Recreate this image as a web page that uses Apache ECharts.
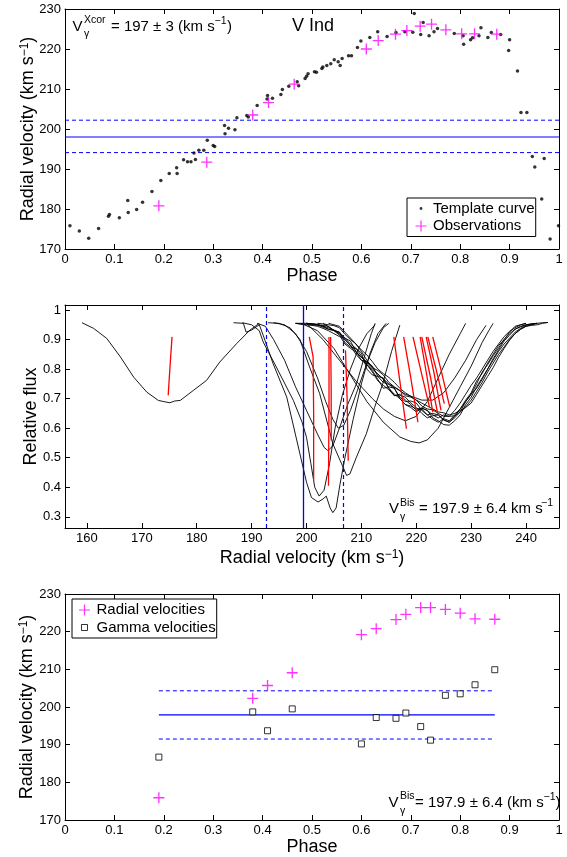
<!DOCTYPE html>
<html><head><meta charset="utf-8">
<script src="https://cdn.jsdelivr.net/npm/echarts@6/dist/echarts.min.js"></script>
<style>html,body{margin:0;padding:0;background:#fff}#c{width:567px;height:857px}</style>
</head><body><div id="c"></div>
<script>
const FONT = '"Liberation Sans", Arial, Helvetica, sans-serif';

// ---------- Top panel: template curve and observations ----------
const tplPhase = [0.010,0.029,0.048,0.068,0.088,0.090,0.110,0.127,0.128,0.145,0.157,0.176,0.194,0.211,0.226,0.227,0.240,0.248,0.255,0.261,0.264,0.271,0.281,0.288,0.300,0.303,0.323,0.324,0.331,0.344,0.348,0.368,0.371,0.389,0.409,0.410,0.420,0.437,0.440,0.453,0.470,0.473,0.486,0.489,0.492,0.505,0.509,0.520,0.522,0.530,0.538,0.545,0.553,0.557,0.561,0.574,0.580,0.592,0.599,0.617,0.633,0.652,0.670,0.688,0.704,0.707,0.720,0.725,0.737,0.747,0.754,0.788,0.806,0.807,0.821,0.825,0.838,0.842,0.856,0.863,0.882,0.898,0.900,0.916,0.923,0.935,0.946,0.951,0.965,0.970,0.982,0.999];
const tplRV = [175.8,174.5,172.7,175.1,178.2,178.6,177.8,182.1,179.1,179.9,181.7,184.4,187.1,188.9,190.3,188.9,192.3,191.8,191.8,194.0,192.4,194.7,194.7,197.2,195.9,195.6,200.9,198.8,200.2,199.8,202.8,203.4,203.0,205.9,207.5,208.4,207.7,208.6,209.9,210.7,211.8,210.8,212.6,213.2,213.8,214.3,214.2,215.1,215.5,215.9,216.3,217.3,216.8,215.9,217.6,218.3,218.3,220.4,222.0,222.9,224.3,223.1,224.1,224.3,224.2,228.9,223.6,226.6,223.3,224.3,225.1,223.9,223.3,221.2,222.3,222.8,223.3,225.3,222.9,224.1,223.6,219.6,222.3,214.5,204.1,204.1,193.1,190.5,182.5,192.6,172.5,175.8];
const obsPhase = [0.190,0.287,0.380,0.412,0.464,0.610,0.634,0.669,0.692,0.719,0.742,0.771,0.803,0.829,0.874];
const obsRV = [180.8,191.7,203.5,206.6,211.2,220.0,222.1,223.7,224.6,225.7,226.2,224.8,223.8,223.8,223.7];
const xcorMean = 198.0, xcorUpper = 202.2, xcorLower = 194.1;

// ---------- Middle panel: line profiles (velocity, relative flux) ----------
const profA = [[159.1,0.957],[161.2,0.938],[163.6,0.904],[166.1,0.841],[168.5,0.773],[170.9,0.722],[173.0,0.694],[174.0,0.690],[175.1,0.686],[176.0,0.692],[177.0,0.694],[179.4,0.728],[181.8,0.762],[184.2,0.824],[187.3,0.887],[189.7,0.932],[191.4,0.955]];
const profD1 = [[186.7,0.957],[188.5,0.955],[189.0,0.925],[190.0,0.932],[191.4,0.950],[192.1,0.915],[193.9,0.819],[196.4,0.705],[198.8,0.513],[200.0,0.417],[200.9,0.365],[202.1,0.350],[203.0,0.360],[203.6,0.370],[204.3,0.330],[204.8,0.314],[205.4,0.330],[206.1,0.410],[207.0,0.500],[208.5,0.630],[210.0,0.750],[211.5,0.850],[213.0,0.920],[214.5,0.955]];
const profD2 = [[188.3,0.957],[190.0,0.950],[191.4,0.930],[192.1,0.892],[194.5,0.807],[197.6,0.694],[199.2,0.620],[200.0,0.569],[200.8,0.480],[201.5,0.400],[202.3,0.370],[203.2,0.390],[204.2,0.480],[205.2,0.600],[206.5,0.710],[208.0,0.800],[209.5,0.870],[211.0,0.920],[212.5,0.950]];
const profD3 = [[193.0,0.957],[195.0,0.955],[197.0,0.940],[198.8,0.900],[200.5,0.810],[202.4,0.717],[204.8,0.547],[206.4,0.479],[207.3,0.440],[207.9,0.445],[209.1,0.502],[210.9,0.581],[212.4,0.670],[213.9,0.751],[215.5,0.860],[217.0,0.949]];
const profD4 = [[191.0,0.955],[192.5,0.945],[194.0,0.900],[196.0,0.830],[198.0,0.740],[200.0,0.660],[202.0,0.580],[203.2,0.535],[203.9,0.524],[204.8,0.540],[206.0,0.600],[207.5,0.680],[209.1,0.750],[210.9,0.864],[211.8,0.920],[212.5,0.955]];
const profD5 = [[194.0,0.957],[196.0,0.950],[198.0,0.920],[200.0,0.860],[202.0,0.770],[203.5,0.690],[204.8,0.630],[205.8,0.600],[206.8,0.610],[208.0,0.660],[209.5,0.740],[211.0,0.820],[212.5,0.890],[214.0,0.940],[215.0,0.955]];
const profW1 = [[199.0,0.955],[202.0,0.930],[205.0,0.870],[208.0,0.780],[211.0,0.690],[214.0,0.620],[217.0,0.570],[219.0,0.555],[220.5,0.550],[222.0,0.560],[224.0,0.600],[226.0,0.670],[228.0,0.740],[230.0,0.810],[232.0,0.890],[233.2,0.930],[234.0,0.955]];
const profW2 = [[203.0,0.955],[206.0,0.920],[209.0,0.860],[212.0,0.800],[215.0,0.750],[218.0,0.715],[221.0,0.695],[223.0,0.695],[225.0,0.720],[227.0,0.770],[229.0,0.830],[231.0,0.900],[232.7,0.948]];
const profW3 = [[200.0,0.955],[203.0,0.900],[206.0,0.830],[209.0,0.760],[212.0,0.700],[214.0,0.665],[216.0,0.640],[218.0,0.625],[220.0,0.640],[222.0,0.690],[224.0,0.770],[226.0,0.850],[228.0,0.920],[229.0,0.955]];
const rvGrid = [198,199,200,201,202,203,204,205,206,207,208,209,210,211,212,213,214,215,216,217,218,219,220,221,222,223,224,225,226,227,228,229,230,231,232,233,234,235,236,237,238,239,240,241,242,243,244];
const fluxR1 = [0.955,0.953,0.952,0.950,0.948,0.946,0.940,0.932,0.920,0.900,0.880,0.850,0.830,0.815,0.790,0.760,0.745,0.730,0.710,0.715,0.695,0.680,0.660,0.665,0.645,0.630,0.620,0.632,0.625,0.645,0.665,0.695,0.720,0.760,0.785,0.820,0.850,0.880,0.900,0.920,0.935,0.945,0.950,0.953,0.955,null,null];
const fluxR2 = [null,null,0.955,0.952,0.950,0.942,0.935,0.930,0.925,0.890,0.875,0.870,0.855,0.800,0.780,0.775,0.770,0.735,0.715,0.700,0.680,0.670,0.655,0.668,0.660,0.635,0.625,0.612,0.610,0.625,0.645,0.680,0.705,0.740,0.770,0.800,0.830,0.860,0.885,0.905,0.925,0.938,0.948,0.952,0.955,null,null];
const fluxR3 = [0.955,0.952,0.950,0.948,0.945,0.938,0.930,0.920,0.910,0.905,0.895,0.860,0.830,0.825,0.810,0.775,0.755,0.748,0.735,0.705,0.690,0.692,0.685,0.660,0.645,0.650,0.645,0.628,0.620,0.635,0.655,0.672,0.695,0.725,0.755,0.790,0.820,0.850,0.875,0.900,0.920,0.935,0.945,0.950,0.955,null,null];
const fluxR4 = [null,null,null,null,0.955,0.953,0.950,0.947,0.940,0.918,0.900,0.885,0.860,0.830,0.805,0.795,0.780,0.755,0.740,0.728,0.710,0.705,0.695,0.675,0.665,0.662,0.650,0.640,0.640,0.642,0.655,0.690,0.715,0.735,0.765,0.800,0.835,0.865,0.895,0.915,0.935,0.943,0.950,0.953,0.955,0.957,0.958];
const fluxR5 = [0.955,0.955,0.955,0.954,0.952,0.945,0.935,0.932,0.925,0.905,0.885,0.870,0.845,0.815,0.795,0.765,0.735,0.740,0.735,0.700,0.680,0.675,0.665,0.668,0.660,0.645,0.635,0.645,0.640,0.660,0.685,0.715,0.745,0.770,0.800,0.830,0.860,0.885,0.910,0.928,0.940,0.950,0.955,null,null,null,null];
const fluxR6 = [null,null,0.955,0.953,0.950,0.948,0.945,0.930,0.915,0.885,0.870,0.858,0.840,0.825,0.805,0.782,0.765,0.735,0.710,0.712,0.705,0.685,0.670,0.650,0.635,0.642,0.645,0.628,0.620,0.640,0.665,0.690,0.715,0.750,0.790,0.815,0.845,0.872,0.900,0.925,0.945,0.950,0.955,null,null,null,null];
const fluxR7 = [null,null,null,null,null,null,0.955,0.950,0.945,0.925,0.905,0.885,0.865,0.848,0.825,0.800,0.785,0.772,0.755,0.735,0.720,0.708,0.695,0.685,0.675,0.665,0.655,0.652,0.645,0.650,0.660,0.670,0.685,0.715,0.745,0.775,0.805,0.840,0.870,0.898,0.920,0.935,0.945,0.948,0.950,0.955,0.958];
// bisectors (red)
const bisA = [[174.8,0.711],[175.1,0.800],[175.5,0.909]];
const bis1 = [[200.5,0.909],[201.2,0.841],[201.3,0.650],[201.3,0.422]];
const bis2 = [[204.1,0.909],[204.1,0.700],[204.0,0.405]];
const bis3 = [[204.4,0.909],[204.5,0.720],[204.5,0.558]];
const bis4 = [[207.1,0.864],[207.4,0.700],[207.6,0.490]];
const bis5 = [[215.9,0.909],[217.0,0.760],[218.2,0.598]];
const bis6 = [[217.7,0.909],[219.0,0.770],[220.3,0.620]];
const bis7 = [[219.4,0.909],[220.9,0.790],[222.4,0.671]];
const bis8 = [[220.7,0.909],[221.9,0.780],[223.0,0.654]];
const bis9 = [[221.0,0.909],[222.5,0.780],[223.9,0.649]];
const bis10 = [[221.8,0.909],[223.2,0.790],[224.5,0.660]];
const bis11 = [[222.1,0.909],[223.6,0.800],[225.1,0.683]];
const bis12 = [[223.0,0.909],[224.6,0.790],[226.1,0.671]];
const bisMidMean = 199.4, bisMidLower = 192.7, bisMidUpper = 206.7;

// ---------- Bottom panel ----------
const bisPhase = [0.19,0.38,0.41,0.46,0.60,0.63,0.67,0.69,0.72,0.74,0.77,0.80,0.83,0.87];
const bisRV = [175.9,202.3,205.7,209.1,219.2,220.8,223.2,224.6,226.4,226.4,225.9,224.9,223.4,223.3];
const gammaRV = [186.7,198.7,193.7,199.5,190.2,197.2,197.0,198.4,194.8,191.2,203.1,203.5,205.9,209.9];
const gammaMean = 197.9, gammaUpper = 204.3, gammaLower = 191.5;
const gammaSpan = [0.19, 0.87];

// ---------- tick values ----------
const phaseTicks = {min:0, max:1, interval:0.1};
const rvTicks = {min:170, max:230, interval:10};
const velTicks = [160,170,180,190,200,210,220,230,240];
const fluxTicks = [0.3,0.4,0.5,0.6,0.7,0.8,0.9,1];

const PLUS = 'path://M4.4,0H5.6V4.4H10V5.6H5.6V10H4.4V5.6H0V4.4H4.4Z';
const PLUS_LEG = 'path://M0,0M14,14M6.4,1.5H7.6V6.4H12.5V7.6H7.6V12.5H6.4V7.6H1.5V6.4H6.4Z';
const DOT_LEG = 'path://M0,0M14,14M7,5.6C7.8,5.6 8.4,6.2 8.4,7C8.4,7.8 7.8,8.4 7,8.4C6.2,8.4 5.6,7.8 5.6,7C5.6,6.2 6.2,5.6 7,5.6Z';
const SQ_LEG = 'path://M0,0M14,14M4,4H10V10H4Z';

const BLUE = '#0000ff', MAG = '#ff00ff', RED = '#ff0000';

function pairs(xs, ys){ const out=[]; xs.forEach((x,i)=>{ if(ys[i]!==null && ys[i]!==undefined) out.push([x,ys[i]]); }); return out; }

const richName = {
  t:{fontSize:18, fontFamily:FONT, color:'#000'},
  s:{fontSize:12, fontFamily:FONT, color:'#000', verticalAlign:'top', padding:[0,0,6,0]}
};
const nameStyle = {fontSize:18, fontFamily:FONT, color:'#000', rich:richName};
const rvName = '{t|Radial velocity (km s}{s|−1}{t|)}';

function baseAxis(extra){
  return Object.assign({
    type:'value',
    nameMoveOverlap:false,
    axisLine:{show:true, onZero:false, lineStyle:{color:'#000', width:1}},
    axisTick:{show:true, inside:true, length:5, lineStyle:{color:'#000', width:1}},
    splitLine:{show:false},
    axisLabel:{color:'#000', fontSize:13, fontFamily:FONT, margin:4},
    nameTextStyle:nameStyle
  }, extra);
}
function mirror(extra){
  const a = baseAxis(extra);
  a.axisLabel = {show:false};
  return a;
}

const xAxes = [
  baseAxis(Object.assign({gridIndex:0, position:'bottom', name:'Phase', nameLocation:'middle', nameGap:18}, phaseTicks)),
  mirror(Object.assign({gridIndex:0, position:'top'}, phaseTicks)),
  baseAxis({gridIndex:1, position:'bottom', min:156, max:246, name:rvName, nameLocation:'middle', nameGap:21,
    axisLabel:{color:'#000', fontSize:13, fontFamily:FONT, margin:4, customValues:velTicks},
    axisTick:{show:true, inside:true, length:5, lineStyle:{color:'#000'}, customValues:velTicks}}),
  baseAxis({gridIndex:1, position:'top', min:156, max:246, axisLabel:{show:false},
    axisTick:{show:true, inside:true, length:5, lineStyle:{color:'#000'}, customValues:velTicks}}),
  baseAxis(Object.assign({gridIndex:2, position:'bottom', name:'Phase', nameLocation:'middle', nameGap:18}, phaseTicks)),
  mirror(Object.assign({gridIndex:2, position:'top'}, phaseTicks))
];
const yAxes = [
  baseAxis(Object.assign({gridIndex:0, position:'left', name:rvName, nameLocation:'middle', nameRotate:90, nameGap:28}, rvTicks)),
  mirror(Object.assign({gridIndex:0, position:'right'}, rvTicks)),
  baseAxis({gridIndex:1, position:'left', min:0.262, max:1.017, name:'Relative flux', nameLocation:'middle', nameRotate:90, nameGap:25,
    axisLabel:{color:'#000', fontSize:13, fontFamily:FONT, margin:4, customValues:fluxTicks},
    axisTick:{show:true, inside:true, length:5, lineStyle:{color:'#000'}, customValues:fluxTicks}}),
  baseAxis({gridIndex:1, position:'right', min:0.262, max:1.017, axisLabel:{show:false},
    axisTick:{show:true, inside:true, length:5, lineStyle:{color:'#000'}, customValues:fluxTicks}}),
  baseAxis(Object.assign({gridIndex:2, position:'left', name:rvName, nameLocation:'middle', nameRotate:90, nameGap:29}, rvTicks)),
  mirror(Object.assign({gridIndex:2, position:'right'}, rvTicks))
];

function hline(xi, yi, xs, y, dashed, w){
  return {type:'line', xAxisIndex:xi, yAxisIndex:yi, data:[[xs[0],y],[xs[1],y]], symbol:'none', silent:true,
    lineStyle:{color:BLUE, width:w||1, type: dashed ? [4,3] : 'solid'}, z:3};
}
function prof(d, color, w){
  return {type:'line', xAxisIndex:2, yAxisIndex:2, data:d, symbol:'none', silent:true, clip:true,
    lineStyle:{color:color||'#000', width:w||0.9}};
}

const series = [
  hline(0,0,[0,1],xcorMean,false,1.2),
  hline(0,0,[0,1],xcorUpper,true,1),
  hline(0,0,[0,1],xcorLower,true,1),
  {type:'scatter', name:'Template curve', xAxisIndex:0, yAxisIndex:0, data:pairs(tplPhase,tplRV), symbol:'circle', symbolSize:3.5, itemStyle:{color:'#000'}, silent:true, z:4},
  {type:'scatter', name:'Observations', xAxisIndex:0, yAxisIndex:0, data:pairs(obsPhase,obsRV), symbol:PLUS, symbolSize:11, itemStyle:{color:MAG}, silent:true, z:5}
];
[profA, profD1, profD2, profD3, profD4, profD5, profW1, profW2, profW3].forEach(d=>series.push(prof(d)));
[fluxR1, fluxR2, fluxR3, fluxR4, fluxR5, fluxR6, fluxR7].forEach(f=>series.push(prof(pairs(rvGrid,f))));
[bisA,bis1,bis2,bis3,bis4,bis5,bis6,bis7,bis8,bis9,bis10,bis11,bis12].forEach(d=>series.push(prof(d,RED,1.3)));
series.push({type:'line', xAxisIndex:2, yAxisIndex:2, data:[], silent:true, z:6,
  markLine:{silent:true, symbol:'none', label:{show:false}, animation:false,
    data:[
      {xAxis:bisMidMean, lineStyle:{color:BLUE, width:1.3, type:'solid'}},
      {xAxis:bisMidLower, lineStyle:{color:BLUE, width:1.2, type:[4,3]}},
      {xAxis:bisMidUpper, lineStyle:{color:BLUE, width:1.2, type:[4,3]}}
    ]}});
series.push(hline(4,4,gammaSpan,gammaMean,false,1.2));
series.push(hline(4,4,gammaSpan,gammaUpper,true,1));
series.push(hline(4,4,gammaSpan,gammaLower,true,1));
series.push({type:'scatter', name:'Radial velocities', xAxisIndex:4, yAxisIndex:4, data:pairs(bisPhase,bisRV), symbol:PLUS, symbolSize:11, itemStyle:{color:MAG}, silent:true, z:5});
series.push({type:'scatter', name:'Gamma velocities', xAxisIndex:4, yAxisIndex:4, data:pairs(bisPhase,gammaRV), symbol:'rect', symbolSize:6, itemStyle:{color:'#fff', borderColor:'#000', borderWidth:1}, silent:true, z:5});

function txt(x, y, s, size, extra){
  return Object.assign({type:'text', x:x, y:y, silent:true, z:100,
    style:{text:s, fontSize:size, fontFamily:FONT, fill:'#000', textAlign:'left', textVerticalAlign:'middle'}}, extra||{});
}
const graphics = [
  txt(72.5, 26.5, 'V', 15), txt(84, 20.5, 'Xcor', 10.5), txt(84, 34.5, 'γ', 10.5),
  txt(111, 26.5, '= 197 ± 3 (km s', 15), txt(214.5, 21.5, '−1', 10.5), txt(227, 26.5, ')', 15),
  txt(292, 26, 'V Ind', 18),
  txt(389, 509, 'V', 15), txt(400, 503.5, 'Bis', 10.5), txt(400, 517.5, 'γ', 10.5),
  txt(419, 509, '= 197.9 ± 6.4 km s', 15), txt(541, 503.5, '−1', 10.5),
  txt(388.5, 802.5, 'V', 15), txt(400, 796.5, 'Bis', 10.5), txt(400, 811, 'γ', 10.5),
  txt(415, 802.5, '= 197.9 ± 6.4 (km s', 15), txt(543.5, 797, '−1', 10.5), txt(555.5, 802.5, ')', 15)
];

const legendBase = {orient:'vertical', selectedMode:false, itemWidth:14, itemHeight:14, itemGap:2.5,
  backgroundColor:'#fff', borderColor:'#000', borderWidth:1, borderRadius:0,
  textStyle:{fontSize:15, fontFamily:FONT, color:'#000'}};

const option = {
  animation:false,
  backgroundColor:'#fff',
  grid:[
    {left:65, top:9, width:494, height:240},
    {left:65, top:305, width:494, height:223},
    {left:65, top:594, width:494, height:228}
  ],
  xAxis:xAxes,
  yAxis:yAxes,
  legend:[
    Object.assign({}, legendBase, {left:407, top:198, padding:[3,1,3,7],
      data:[{name:'Template curve', icon:DOT_LEG, itemStyle:{color:'#000'}}, {name:'Observations', icon:PLUS_LEG, itemStyle:{color:MAG}}]}),
    Object.assign({}, legendBase, {left:72, top:599, padding:[3.5,1,3,5],
      data:[{name:'Radial velocities', icon:PLUS_LEG, itemStyle:{color:MAG}}, {name:'Gamma velocities', icon:SQ_LEG, itemStyle:{color:'#fff', borderColor:'#000', borderWidth:1}}]})
  ],
  series:series,
  graphic:graphics
};
const chart = echarts.init(document.getElementById('c'), null, {renderer:'canvas'});
chart.setOption(option);
</script></body></html>
